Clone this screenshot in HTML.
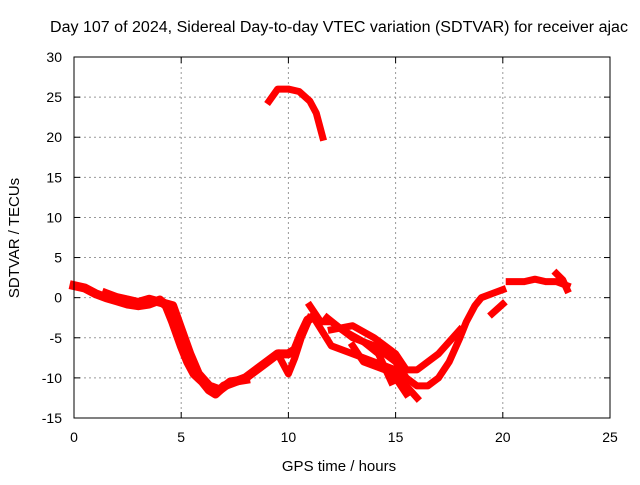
<!DOCTYPE html>
<html><head><meta charset="utf-8"><style>
body{margin:0;background:#fff}
svg{font-family:"Liberation Sans",sans-serif;font-size:14px}
</style></head><body>
<svg id="c" width="640" height="480">
<text x="50" y="32" textLength="578" lengthAdjust="spacingAndGlyphs" style="font-size:15.5px">Day 107 of 2024, Sidereal Day-to-day VTEC variation (SDTVAR) for receiver ajac</text>
<text x="339" y="471" text-anchor="middle" style="font-size:15px">GPS time / hours</text>
<text transform="translate(19,238) rotate(-90)" text-anchor="middle" style="font-size:15px">SDTVAR / TECUs</text>
<g id="grid"></g><g id="marks"></g>
<rect x="74" y="57" width="536" height="361" fill="none" stroke="#000" stroke-width="1"/>
<g id="ticks"></g>
</svg>
<script>
const xTicks=[0,5,10,15,20,25];
const yTicks=[30,25,20,15,10,5,0,-5,-10,-15];
const seriesTop=[[9.1,24.5],[9.5,26],[10,26],[10.5,25.7],[11,24.5],[11.3,23],[11.6,20]];
const seriesMain=[[0,1.5],[0.5,1.2],[1,0.5],[1.5,0],[2,-0.4],[2.5,-0.8],[3,-1],[3.5,-0.8],[4,-0.3],[4.3,-1],[4.6,-3],[5,-6],[5.3,-8],[5.6,-9.5],[6,-10.5],[6.3,-11.5],[6.6,-12],[7,-11],[7.5,-10.5],[8,-10],[8.5,-9],[9,-8],[9.5,-7],[10,-7],[10.3,-6.5],[10.6,-4.5],[10.9,-2.8],[11.2,-2.3]];
const seriesMain2=[[1.5,0.5],[2,0],[2.5,-0.3],[3,-0.6],[3.5,-0.2],[4.6,-1],[5,-4],[5.4,-7],[5.8,-9.5],[6.3,-11],[6.8,-11.5],[7.3,-10.5],[8,-10.2]];
const seriesDip=[[9.5,-7],[9.8,-8.5],[10,-9.5],[10.3,-7.5],[10.6,-5],[11,-2.5]];
const seriesC1=[[11,-1],[11.5,-3],[12,-3],[13,-5],[14,-6],[15,-8],[15.5,-10],[16,-11],[16.5,-11],[17,-10],[17.5,-8],[18,-5],[18.3,-3],[18.7,-1],[19,0],[19.5,0.5],[20,1]];
const seriesC2=[[11.3,-3],[12,-6],[13,-7],[14,-8],[15,-9],[15.5,-11],[16,-12.5]];
const seriesC3=[[12,-4],[13,-3.5],[14,-5],[15,-7],[15.5,-9],[16,-9],[17,-7],[18,-4]];
const seriesC4=[[13,-6],[13.5,-8],[14.5,-9],[15,-10],[15.5,-12]];
const seriesC5=[[11.8,-2.5],[12.5,-4],[13.5,-5.5],[14.2,-7],[14.8,-10.5]];
const seriesR1=[[20.3,2],[21,2],[21.5,2.3],[22,2],[22.5,2],[23,1.5]];
const seriesR2=[[22.5,3],[22.8,2.2],[23,1]];
const seriesR3=[[19.5,-2],[20,-0.8]];
const allSeries=[seriesTop,seriesMain,seriesMain2,seriesDip,seriesC1,seriesC2,seriesC3,seriesC4,seriesC5,seriesR1,seriesR2,seriesR3];
const NS="http://www.w3.org/2000/svg";
const xs=v=>74+v*536/25, ys=v=>57+(30-v)*361/45;
const grid=document.getElementById('grid'),ticks=document.getElementById('ticks'),marks=document.getElementById('marks');
function mk(t,a,p){const e=document.createElementNS(NS,t);for(const k in a)e.setAttribute(k,a[k]);p.appendChild(e);return e;}
xTicks.forEach(t=>{const x=xs(t);
 if(t>0&&t<25){const g=mk('line',{x1:x,x2:x,y1:57,y2:418,stroke:'#999','stroke-dasharray':'2,3'},grid);
 
 }
 mk('line',{x1:x,x2:x,y1:418,y2:412,stroke:'#000'},ticks);mk('line',{x1:x,x2:x,y1:57,y2:63,stroke:'#000'},ticks);
 const l=mk('text',{x:x,y:442,'text-anchor':'middle'},ticks);l.textContent=t;
 
 });
yTicks.forEach(t=>{const y=ys(t);
 if(t>-15&&t<30){const g=mk('line',{x1:74,x2:610,y1:y,y2:y,stroke:'#999','stroke-dasharray':'2,3'},grid);
 
 }
 mk('line',{x1:74,x2:80,y1:y,y2:y,stroke:'#000'},ticks);mk('line',{x1:610,x2:604,y1:y,y2:y,stroke:'#000'},ticks);
 const l=mk('text',{x:62,y:y+5,'text-anchor':'end'},ticks);l.textContent=t;
 
 });
allSeries.forEach((s,i)=>{const p=mk('polyline',{points:s.map(d=>xs(d[0])+','+ys(d[1])).join(' '),fill:'none',stroke:'#f00','stroke-width':(i==1||i==2)?9:7,'stroke-linejoin':'round','stroke-linecap':'square'},marks);
 
 });
</script>
</body></html>
